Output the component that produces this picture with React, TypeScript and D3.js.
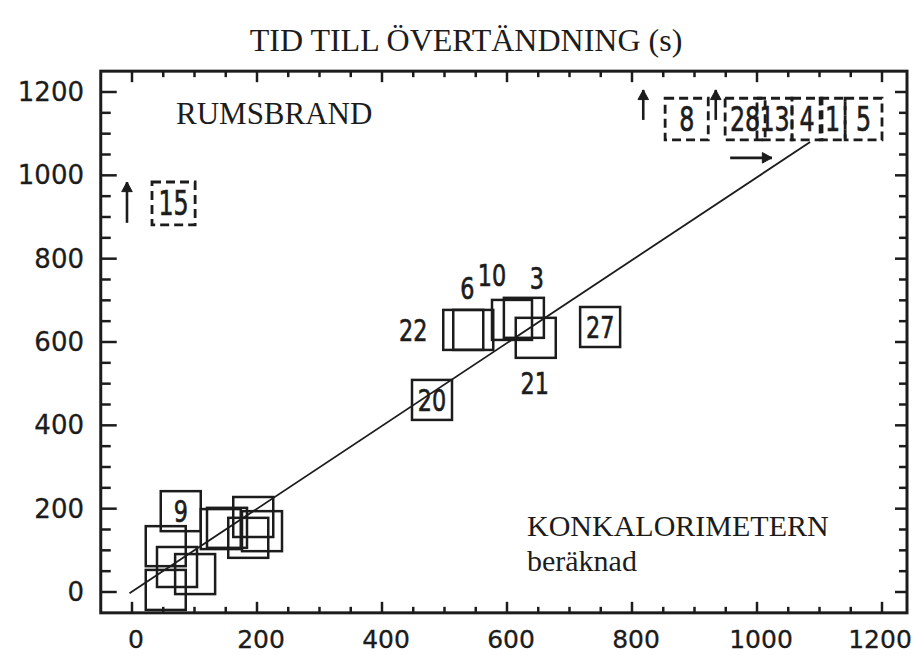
import React from "react";
import * as d3 from "d3";

// ---------- data ----------
const xTickValues = [0, 200, 400, 600, 800, 1000, 1200];
const yTickValues = [0, 200, 400, 600, 800, 1000, 1200];

// measured points (solid squares): id, calorimeter (x) and room fire (y) times
const solidIds = ["20", "27", "22", "6", "10", "3", "21", "9", "a", "b", "c", "d", "e", "f", "g", "h", "i"];
const solidX = [480, 749, 530, 546, 608, 627, 646, 78, 54, 54, 72, 101, 142, 152, 194, 208, 186];
const solidY = [461, 636, 629, 629, 653, 658, 610, 194, 110, 5, 60, 43, 151, 154, 180, 146, 130];
const solidText = ["20", "27", "22", "6", "10", "3", "21", "9", "", "", "", "", "", "", "", "", ""];

// no flashover within test time (dashed squares): ranges
const openIds = ["8", "28", "13", "4", "1", "5", "15"];
const openXLow = [853, 949, 1000, 1056, 1101, 1141, 32];
const openXHigh = [922, 1013, 1056, 1104, 1141, 1200, 101];
const openYLow = [1085, 1085, 1085, 1085, 1085, 1085, 881];
const openYHigh = [1185, 1185, 1185, 1185, 1185, 1185, 984];

// arrows (from -> to)
const arrowX1 = [818, 934, -8, 957];
const arrowY1 = [1133, 1133, 886, 1042];
const arrowX2 = [818, 934, -8, 1024];
const arrowY2 = [1205, 1205, 984, 1042];

// line of equality
const lineX = [-4, 1085];
const lineY = [-3, 1080];

const titleText = "TID TILL ÖVERTÄNDNING (s)";
const roomText = "RUMSBRAND";
const coneText = "KONKALORIMETERN";
const calcText = "beräknad";

// ---------- styles ----------
const INK = "#1c1c1c";
const BOX_HALF_X = 32;
const BOX_HALF_Y = 48;
const labelOffsets: Record<string, [number, number]> = {
  "22": [-50, 0],
  "6": [-6, -42],
  "10": [-20, -45],
  "3": [13, -40],
  "21": [-1, 45],
};

export default function App() {
  const W = 918, H = 655;
  const x = d3.scaleLinear().domain([0, 1200]).range([132, 882]);
  const y = d3.scaleLinear().domain([0, 1200]).range([592, 92]);
  const fx0 = x(-50), fx1 = x(1240), fy0 = y(1250), fy1 = y(-50);

  const minor = d3.range(0, 1201, 50);
  const line = d3.line<number>().x((_, i) => x(lineX[i])).y((_, i) => y(lineY[i]));

  const numFont = "DejaVu Sans, sans-serif";
  const serif = "Liberation Serif, Times New Roman, serif";

  const num = (t: string, cx: number, cy: number, key: string, size = 31) => (
    <text
      key={key}
      transform={`translate(${cx},${cy}) scale(0.72,1)`}
      textAnchor="middle"
      dominantBaseline="central"
      fontFamily={numFont}
      fontSize={size}
      fill={INK}
      stroke={INK}
      strokeWidth={0.7}
    >
      {t}
    </text>
  );

  return (
    <svg width={W} height={H} style={{ position: "absolute", left: 0, top: 0, background: "#fff" }}>
      <rect x={0} y={0} width={W} height={H} fill="#fff" />
      {/* title */}
      <text x={466} y={51} textAnchor="middle" fontFamily={serif} fontSize={32} fill={INK}>
        {titleText}
      </text>

      {/* ticks */}
      <g stroke={INK} strokeWidth={2.5}>
        {minor.map((v) => {
          const major = v % 200 === 0;
          return (
            <g key={"t" + v}>
              <line x1={fx0} x2={fx0 + (major ? 16 : 10)} y1={y(v)} y2={y(v)} />
              <line x1={fx1} x2={fx1 - (major ? 12 : 8)} y1={y(v)} y2={y(v)} />
              <line x1={x(v)} x2={x(v)} y1={fy1} y2={fy1 - (major ? 11 : 6)} />
              <line x1={x(v)} x2={x(v)} y1={fy0} y2={fy0 + (major ? 11 : 6)} />
            </g>
          );
        })}
      </g>
      {/* frame */}
      <rect x={fx0} y={fy0} width={fx1 - fx0} height={fy1 - fy0} fill="none" stroke={INK} strokeWidth={3} />

      {/* tick labels */}
      {yTickValues.map((v) => (
        <text key={"yl" + v} x={84} y={y(v)} textAnchor="end" dominantBaseline="central" fontFamily={numFont} fontSize={26} fill={INK} stroke={INK} strokeWidth={0.3}>
          {v}
        </text>
      ))}
      {xTickValues.map((v) => (
        <text key={"xl" + v} x={Math.min(x(v) + 4, 880)} y={648} textAnchor="middle" fontFamily={numFont} fontSize={25} fill={INK} stroke={INK} strokeWidth={0.3}>
          {v}
        </text>
      ))}

      {/* equality line */}
      <path d={line(lineX) || ""} fill="none" stroke={INK} strokeWidth={1.8} />

      {/* solid squares */}
      {solidIds.map((id, i) => {
        const x0 = x(solidX[i] - BOX_HALF_X), x1 = x(solidX[i] + BOX_HALF_X);
        const y0 = y(solidY[i] + BOX_HALF_Y), y1 = y(solidY[i] - BOX_HALF_Y);
        return (
          <rect key={"s" + id} x={x0} y={y0} width={x1 - x0} height={y1 - y0} fill="none" stroke={INK} strokeWidth={2.5} />
        );
      })}
      {solidIds.map((id, i) => {
        if (!solidText[i]) return null;
        const off = labelOffsets[id] || [0, 0];
        return num(solidText[i], x(solidX[i]) + off[0], y(solidY[i]) + off[1], "sl" + id);
      })}

      {/* dashed squares */}
      {openIds.map((id, i) => {
        const x0 = x(openXLow[i]), x1 = x(openXHigh[i]);
        const y0 = y(openYHigh[i]), y1 = y(openYLow[i]);
        return (
          <rect key={"o" + id} x={x0} y={y0} width={x1 - x0} height={y1 - y0} fill="none" stroke={INK} strokeWidth={2.8} strokeDasharray="9 5" />
        );
      })}
      {openIds.map((id, i) =>
        num(id, (x(openXLow[i]) + x(openXHigh[i])) / 2, (y(openYLow[i]) + y(openYHigh[i])) / 2, "ol" + id, 33)
      )}

      {/* arrows */}
      <g stroke={INK} strokeWidth={2.6} fill="none">
        {arrowX1.map((_, i) => {
          const ax1 = x(arrowX1[i]), ay1 = y(arrowY1[i]), ax2 = x(arrowX2[i]), ay2 = y(arrowY2[i]);
          const ang = Math.atan2(ay2 - ay1, ax2 - ax1);
          const hl = 11, hw = 0.5;
          const h1 = [ax2 - hl * Math.cos(ang - hw), ay2 - hl * Math.sin(ang - hw)];
          const h2 = [ax2 - hl * Math.cos(ang + hw), ay2 - hl * Math.sin(ang + hw)];
          return (
            <g key={"a" + i}>
              <line x1={ax1} y1={ay1} x2={ax2} y2={ay2} />
              <polygon points={`${h1[0]},${h1[1]} ${ax2},${ay2} ${h2[0]},${h2[1]}`} fill={INK} strokeWidth={1} />
            </g>
          );
        })}
      </g>

      {/* annotations */}
      <text x={176} y={124} fontFamily={serif} fontSize={31} fill={INK}>{roomText}</text>
      <text x={527} y={536} fontFamily={serif} fontSize={30} fill={INK}>{coneText}</text>
      <text x={527} y={571} fontFamily={serif} fontSize={30} fill={INK}>{calcText}</text>
    </svg>
  );
}
